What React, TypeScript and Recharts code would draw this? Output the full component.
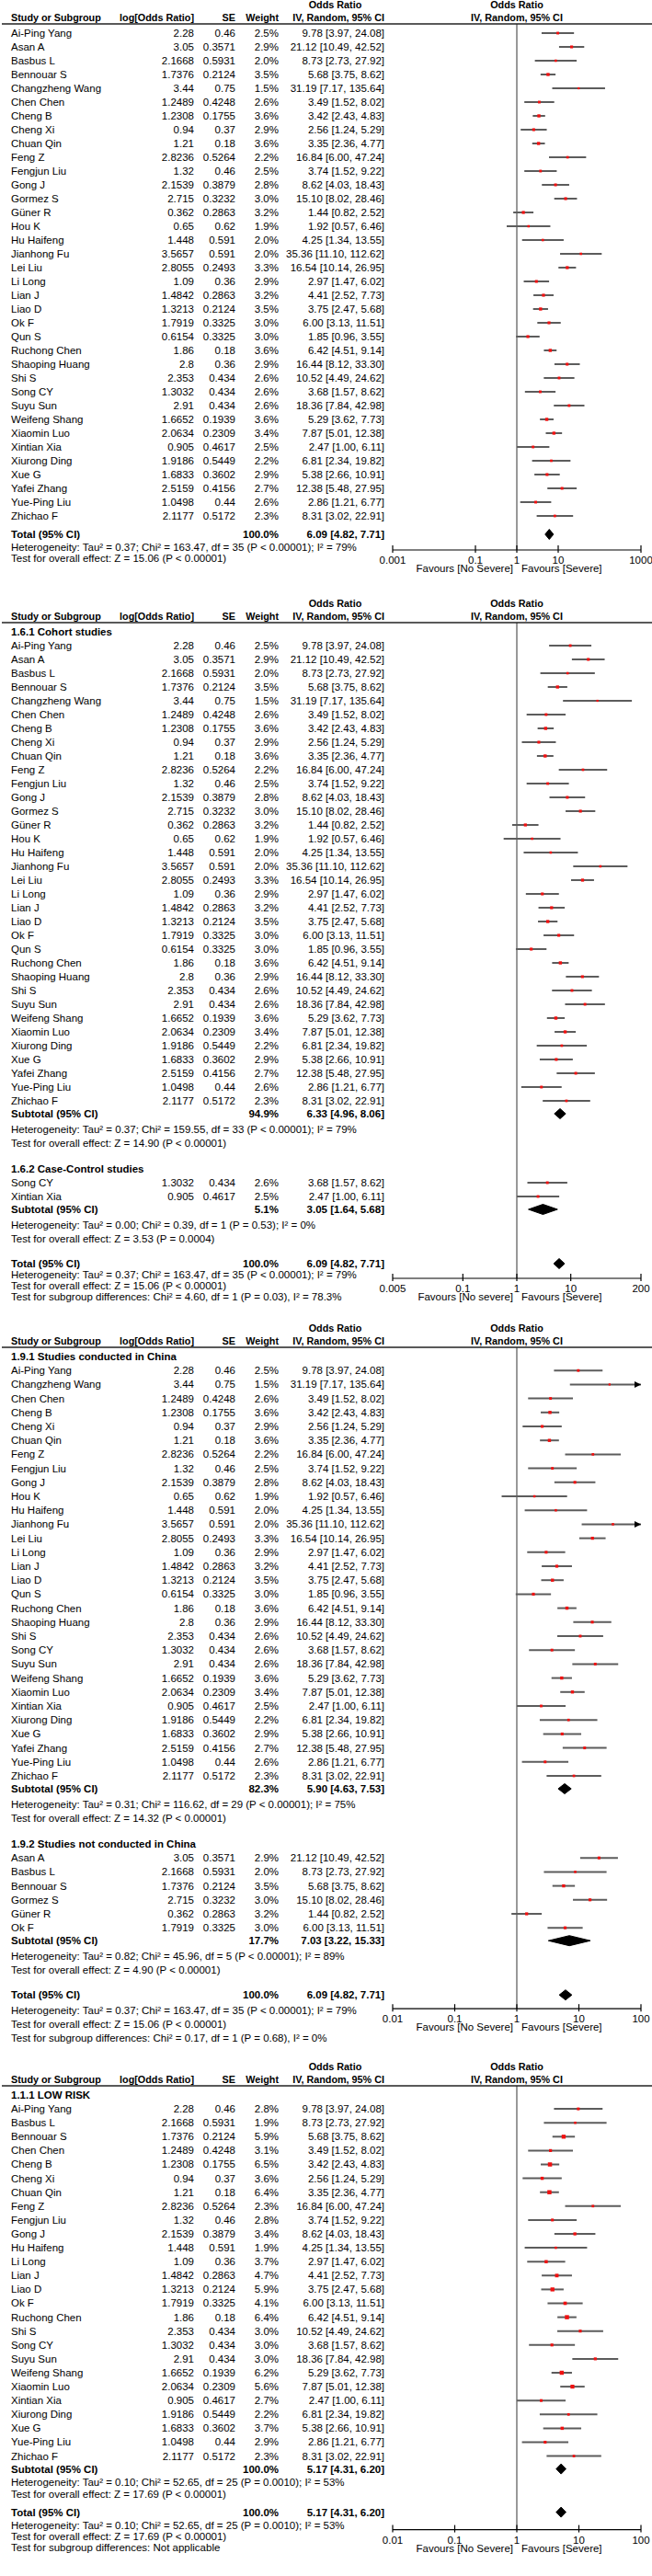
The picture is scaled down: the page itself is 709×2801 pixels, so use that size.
import React from 'react';
import { ScatterChart, Scatter, XAxis, YAxis, ErrorBar, ReferenceLine } from 'recharts';

if (typeof document !== 'undefined') document.body.style.margin = '0';

const FONT = "'Liberation Sans', Arial, Helvetica, sans-serif";
const FS = 11.5;
const FS_HEAD = 10.8;

// study level data (shared by all four panels)
const studyNames = [
  'Ai-Ping Yang', 'Asan A', 'Basbus L', 'Bennouar S', 'Changzheng Wang', 'Chen Chen', 'Cheng B', 'Cheng Xi',
  'Chuan Qin', 'Feng Z', 'Fengjun Liu', 'Gong J', 'Gormez S', 'Güner R', 'Hou K', 'Hu Haifeng',
  'Jianhong Fu', 'Lei Liu', 'Li Long', 'Lian J', 'Liao D', 'Ok F', 'Qun S', 'Ruchong Chen',
  'Shaoping Huang', 'Shi S', 'Song CY', 'Suyu Sun', 'Weifeng Shang', 'Xiaomin Luo', 'Xintian Xia', 'Xiurong Ding',
  'Xue G', 'Yafei Zhang', 'Yue-Ping Liu', 'Zhichao F',
];
const logOR = [
  2.28, 3.05, 2.1668, 1.7376, 3.44, 1.2489, 1.2308, 0.94,
  1.21, 2.8236, 1.32, 2.1539, 2.715, 0.362, 0.65, 1.448,
  3.5657, 2.8055, 1.09, 1.4842, 1.3213, 1.7919, 0.6154, 1.86,
  2.8, 2.353, 1.3032, 2.91, 1.6652, 2.0634, 0.905, 1.9186,
  1.6833, 2.5159, 1.0498, 2.1177,
];
const se = [
  0.46, 0.3571, 0.5931, 0.2124, 0.75, 0.4248, 0.1755, 0.37,
  0.18, 0.5264, 0.46, 0.3879, 0.3232, 0.2863, 0.62, 0.591,
  0.591, 0.2493, 0.36, 0.2863, 0.2124, 0.3325, 0.3325, 0.18,
  0.36, 0.434, 0.434, 0.434, 0.1939, 0.2309, 0.4617, 0.5449,
  0.3602, 0.4156, 0.44, 0.5172,
];
const weightAll = [
  2.5, 2.9, 2.0, 3.5, 1.5, 2.6, 3.6, 2.9,
  3.6, 2.2, 2.5, 2.8, 3.0, 3.2, 1.9, 2.0,
  2.0, 3.3, 2.9, 3.2, 3.5, 3.0, 3.0, 3.6,
  2.9, 2.6, 2.6, 2.6, 3.6, 3.4, 2.5, 2.2,
  2.9, 2.7, 2.6, 2.3,
];
const oddsRatio = [
  9.78, 21.12, 8.73, 5.68, 31.19, 3.49, 3.42, 2.56,
  3.35, 16.84, 3.74, 8.62, 15.10, 1.44, 1.92, 4.25,
  35.36, 16.54, 2.97, 4.41, 3.75, 6.00, 1.85, 6.42,
  16.44, 10.52, 3.68, 18.36, 5.29, 7.87, 2.47, 6.81,
  5.38, 12.38, 2.86, 8.31,
];
const ciLow = [
  3.97, 10.49, 2.73, 3.75, 7.17, 1.52, 2.43, 1.24,
  2.36, 6.00, 1.52, 4.03, 8.02, 0.82, 0.57, 1.34,
  11.10, 10.14, 1.47, 2.52, 2.47, 3.13, 0.96, 4.51,
  8.12, 4.49, 1.57, 7.84, 3.62, 5.01, 1.00, 2.34,
  2.66, 5.48, 1.21, 3.02,
];
const ciHigh = [
  24.08, 42.52, 27.92, 8.62, 135.64, 8.02, 4.83, 5.29,
  4.77, 47.24, 9.22, 18.43, 28.46, 2.52, 6.46, 13.55,
  112.62, 26.95, 6.02, 7.73, 5.68, 11.51, 3.55, 9.14,
  33.30, 24.62, 8.62, 42.98, 7.73, 12.38, 6.11, 19.82,
  10.91, 27.95, 6.77, 22.91,
];

// subgroup memberships
const caseControlStudies = ['Song CY', 'Xintian Xia'];
const nonChinaStudies = ['Asan A', 'Basbus L', 'Bennouar S', 'Gormez S', 'Güner R', 'Ok F'];
const lowRiskStudies = [
  'Ai-Ping Yang', 'Basbus L', 'Bennouar S', 'Chen Chen', 'Cheng B', 'Cheng Xi', 'Chuan Qin', 'Feng Z',
  'Fengjun Liu', 'Gong J', 'Hu Haifeng', 'Li Long', 'Lian J', 'Liao D', 'Ok F', 'Ruchong Chen',
  'Shi S', 'Song CY', 'Suyu Sun', 'Weifeng Shang', 'Xiaomin Luo', 'Xintian Xia', 'Xiurong Ding', 'Xue G',
  'Yue-Ping Liu', 'Zhichao F',
];
const lowRiskWeights = [
  2.8, 1.9, 5.9, 3.1, 6.5, 3.6, 6.4, 2.3,
  2.8, 3.4, 1.9, 3.7, 4.7, 5.9, 4.1, 6.4,
  3.0, 3.0, 3.0, 6.2, 5.6, 2.7, 2.2, 3.7,
  2.9, 2.3,
];

interface Summary { weight: string; or: number; lo: number; hi: number }
const totalAll: Summary = { weight: '100.0%', or: 6.09, lo: 4.82, hi: 7.71 };
const cohortSub: Summary = { weight: '94.9%', or: 6.33, lo: 4.96, hi: 8.06 };
const caseControlSub: Summary = { weight: '5.1%', or: 3.05, lo: 1.64, hi: 5.68 };
const chinaSub: Summary = { weight: '82.3%', or: 5.9, lo: 4.63, hi: 7.53 };
const nonChinaSub: Summary = { weight: '17.7%', or: 7.03, lo: 3.22, hi: 15.33 };
const lowRiskSub: Summary = { weight: '100.0%', or: 5.17, lo: 4.31, hi: 6.2 };

const hetAll = 'Heterogeneity: Tau² = 0.37; Chi² = 163.47, df = 35 (P < 0.00001); I² = 79%';
const effectAll = 'Test for overall effect: Z = 15.06 (P < 0.00001)';

interface Group { title?: string; members: string[]; weights?: number[]; sub?: Summary; notes?: string[] }
interface Layout {
  top: number; height: number; rowH: number; subGap: number; subToNote: number; noteGap: number;
  noteToHead: number; noteToTotal: number; studyToTotal: number; totalToNote: number; tailGap: number; axisGap: number;
}
interface Panel {
  groups: Group[]; total: Summary; totalNotes: string[]; lo: number; hi: number; ticks: number[];
  favours: [string, string]; layout: Layout;
}

const panels: Panel[] = [
  {
    groups: [{ members: studyNames }],
    total: totalAll,
    totalNotes: [hetAll, effectAll],
    lo: 0.001, hi: 1000, ticks: [0.001, 0.1, 1, 10, 1000],
    favours: ['Favours [No Severe]', 'Favours [Severe]'],
    layout: { top: 0, height: 651, rowH: 15, subGap: 14, subToNote: 17, noteGap: 15, noteToHead: 28, noteToTotal: 27, studyToTotal: 20, totalToNote: 14, tailGap: 12, axisGap: 17 },
  },
  {
    groups: [
      {
        title: '1.6.1 Cohort studies',
        members: studyNames.filter((n) => !caseControlStudies.includes(n)),
        sub: cohortSub,
        notes: ['Heterogeneity: Tau² = 0.37; Chi² = 159.55, df = 33 (P < 0.00001); I² = 79%', 'Test for overall effect: Z = 14.90 (P < 0.00001)'],
      },
      {
        title: '1.6.2 Case-Control studies',
        members: caseControlStudies,
        sub: caseControlSub,
        notes: ['Heterogeneity: Tau² = 0.00; Chi² = 0.39, df = 1 (P = 0.53); I² = 0%', 'Test for overall effect: Z = 3.53 (P = 0.0004)'],
      },
    ],
    total: totalAll,
    totalNotes: [hetAll, effectAll, 'Test for subgroup differences: Chi² = 4.60, df = 1 (P = 0.03), I² = 78.3%'],
    lo: 0.005, hi: 200, ticks: [0.005, 0.1, 1, 10, 200],
    favours: ['Favours [No severe]', 'Favours [Severe]'],
    layout: { top: 651, height: 788, rowH: 15, subGap: 14, subToNote: 17, noteGap: 15, noteToHead: 28, noteToTotal: 27, studyToTotal: 20, totalToNote: 12, tailGap: 12, axisGap: 16 },
  },
  {
    groups: [
      {
        title: '1.9.1 Studies conducted in China',
        members: studyNames.filter((n) => !nonChinaStudies.includes(n)),
        sub: chinaSub,
        notes: ['Heterogeneity: Tau² = 0.31; Chi² = 116.62, df = 29 (P < 0.00001); I² = 75%', 'Test for overall effect: Z = 14.32 (P < 0.00001)'],
      },
      {
        title: '1.9.2 Studies not conducted in China',
        members: nonChinaStudies,
        sub: nonChinaSub,
        notes: ['Heterogeneity: Tau² = 0.82; Chi² = 45.96, df = 5 (P < 0.00001); I² = 89%', 'Test for overall effect: Z = 4.90 (P < 0.00001)'],
      },
    ],
    total: totalAll,
    totalNotes: [hetAll, effectAll, 'Test for subgroup differences: Chi² = 0.17, df = 1 (P = 0.68), I² = 0%'],
    lo: 0.01, hi: 100, ticks: [0.01, 0.1, 1, 10, 100],
    favours: ['Favours [No Severe]', 'Favours [Severe]'],
    layout: { top: 1439, height: 803, rowH: 15.2, subGap: 14, subToNote: 17, noteGap: 15, noteToHead: 28, noteToTotal: 27, studyToTotal: 20, totalToNote: 17, tailGap: 15, axisGap: 15 },
  },
  {
    groups: [
      {
        title: '1.1.1 LOW RISK',
        members: lowRiskStudies,
        weights: lowRiskWeights,
        sub: lowRiskSub,
        notes: ['Heterogeneity: Tau² = 0.10; Chi² = 52.65, df = 25 (P = 0.0010); I² = 53%', 'Test for overall effect: Z = 17.69 (P < 0.00001)'],
      },
    ],
    total: lowRiskSub,
    totalNotes: [
      'Heterogeneity: Tau² = 0.10; Chi² = 52.65, df = 25 (P = 0.0010); I² = 53%',
      'Test for overall effect: Z = 17.69 (P < 0.00001)',
      'Test for subgroup differences: Not applicable',
    ],
    lo: 0.01, hi: 100, ticks: [0.01, 0.1, 1, 10, 100],
    favours: ['Favours [No Severe]', 'Favours [Severe]'],
    layout: { top: 2242, height: 559, rowH: 15.1, subGap: 14, subToNote: 14, noteGap: 13, noteToHead: 28, noteToTotal: 20, studyToTotal: 20, totalToNote: 14, tailGap: 12, axisGap: 19 },
  },
];

// column positions
const COL = { name: 12, log: 211, se: 256, weight: 303, ci: 418, plot: 562 };
const LINE_Y = 26;
const PLOT_LEFT = 427;
const PLOT_RIGHT = 697;

type RowKind = 'head' | 'study' | 'sub' | 'total' | 'note';
interface Row {
  kind: RowKind; y: number; label: string;
  logOR?: number; se?: number; weight?: string; or?: number; lo?: number; hi?: number; w?: number;
}

const fmtCI = (r: Row) => `${r.or!.toFixed(2)} [${r.lo!.toFixed(2)}, ${r.hi!.toFixed(2)}]`;

function layoutPanel(p: Panel) {
  const L = p.layout;
  const rows: Row[] = [];
  let y = LINE_Y + 10;
  let prev: RowKind | null = null;
  p.groups.forEach((g) => {
    if (g.title) {
      if (prev === 'note') y += L.noteToHead;
      rows.push({ kind: 'head', y, label: g.title });
      prev = 'head';
    }
    g.members.forEach((name, k) => {
      if (prev) y += L.rowH;
      const i = studyNames.indexOf(name);
      const w = g.weights ? g.weights[k] : weightAll[i];
      rows.push({
        kind: 'study', y, label: name, logOR: logOR[i], se: se[i], weight: w.toFixed(1) + '%',
        or: oddsRatio[i], lo: ciLow[i], hi: ciHigh[i], w,
      });
      prev = 'study';
    });
    if (g.sub) {
      y += L.subGap;
      rows.push({ kind: 'sub', y, label: 'Subtotal (95% CI)', weight: g.sub.weight, or: g.sub.or, lo: g.sub.lo, hi: g.sub.hi });
      prev = 'sub';
      (g.notes || []).forEach((n, k) => {
        y += k === 0 ? L.subToNote : L.noteGap;
        rows.push({ kind: 'note', y, label: n });
        prev = 'note';
      });
    }
  });
  y += prev === 'study' ? L.studyToTotal : L.noteToTotal;
  rows.push({ kind: 'total', y, label: 'Total (95% CI)', weight: p.total.weight, or: p.total.or, lo: p.total.lo, hi: p.total.hi });
  const axisY = y + L.axisGap;
  p.totalNotes.forEach((n, k) => {
    y += k === 0 ? L.totalToNote : L.tailGap;
    rows.push({ kind: 'note', y, label: n });
  });
  return { rows, axisY };
}

function RowLabels({ row, y }: { row: Row; y: number }) {
  const bold = row.kind === 'head' || row.kind === 'sub' || row.kind === 'total';
  const common = { y, dominantBaseline: 'central' as const, fontFamily: FONT, fontSize: FS, fill: '#000' };
  return (
    <g>
      <text x={COL.name} fontWeight={bold ? 700 : 400} {...common}>{row.label}</text>
      {row.logOR != null && <text x={COL.log} textAnchor="end" {...common}>{String(row.logOR)}</text>}
      {row.se != null && <text x={COL.se} textAnchor="end" {...common}>{String(row.se)}</text>}
      {row.weight && (
        <text x={COL.weight} textAnchor="end" fontWeight={bold ? 700 : 400} {...common}>{row.weight}</text>
      )}
      {row.or != null && (
        <text x={COL.ci} textAnchor="end" fontWeight={bold ? 700 : 400} {...common}>{fmtCI(row)}</text>
      )}
    </g>
  );
}

const RowText = (props: any) => {
  const { cy, payload } = props;
  if (cy == null || !payload) return <g />;
  return <RowLabels row={payload.row} y={cy} />;
};

const Square = (props: any) => {
  const { cx, cy, payload } = props;
  if (cx == null || cy == null) return <g />;
  const s = 1.7 * Math.sqrt(payload.w) + 0.2;
  return <rect x={cx - s / 2} y={cy - s / 2} width={s} height={s} fill="#f01010" />;
};

const Arrow = (props: any) => {
  const { cx, cy } = props;
  if (cx == null || cy == null) return <g />;
  return <path d={`M${cx},${cy} L${cx - 7},${cy - 3.5} L${cx - 7},${cy + 3.5} Z`} fill="#000" />;
};

const Empty = () => <g />;

const AxisTick = (props: any) => {
  const { x, y, payload } = props;
  return (
    <g>
      <line x1={x} x2={x} y1={y - 5} y2={y + 3} stroke="#000" strokeWidth={1.2} />
      <text x={x} y={y + 11} textAnchor="middle" dominantBaseline="central" fontFamily={FONT} fontSize={FS} fill="#000">
        {String(payload.value)}
      </text>
    </g>
  );
};

function ForestPanel({ panel }: { panel: Panel }) {
  const L = panel.layout;
  const { rows, axisY } = layoutPanel(panel);
  const toUnit = (y: number) => (y - LINE_Y) / L.rowH;
  const yMax = toUnit(axisY);
  const half = 5.5 / L.rowH;

  const inPlot = rows.filter((r) => r.y < axisY);
  const below = rows.filter((r) => r.y >= axisY);

  const textPts = inPlot.map((r) => ({ x: 1, y: toUnit(r.y), row: r }));
  const studyPts = rows
    .filter((r) => r.kind === 'study')
    .map((r) => ({
      x: r.or!, y: toUnit(r.y), w: r.w!,
      err: [r.or! - r.lo!, Math.min(r.hi!, panel.hi) - r.or!],
    }));
  const arrowPts = rows
    .filter((r) => r.kind === 'study' && r.hi! > panel.hi)
    .map((r) => ({ x: panel.hi, y: toUnit(r.y) }));
  const diamonds = rows
    .filter((r) => r.kind === 'sub' || r.kind === 'total')
    .map((r) => {
      const u = toUnit(r.y);
      return [
        { x: r.lo!, y: u }, { x: r.or!, y: u - half }, { x: r.hi!, y: u }, { x: r.or!, y: u + half }, { x: r.lo!, y: u },
      ];
    });

  const chartH = axisY + 30;
  const headerText = { fontFamily: FONT, fontSize: FS_HEAD, fontWeight: 700, fill: '#000', dominantBaseline: 'central' as const };
  const ciCenter = (COL.ci + 319) / 2 - 4;

  return (
    <div style={{ position: 'absolute', left: 0, top: L.top, width: 709, height: L.height, overflow: 'hidden' }}>
      <div style={{ position: 'absolute', left: 0, top: 0 }}>
        <ScatterChart width={709} height={chartH} margin={{ top: LINE_Y, right: 709 - PLOT_RIGHT, bottom: 0, left: PLOT_LEFT }}>
          <XAxis
            type="number" dataKey="x" scale="log" domain={[panel.lo, panel.hi]} ticks={panel.ticks} interval={0}
            tickSize={0} tickMargin={0} tickLine={false} tick={(p: any) => <AxisTick {...p} />}
            axisLine={{ stroke: '#000', strokeWidth: 1.2 }} height={30}
          />
          <YAxis type="number" dataKey="y" domain={[0, yMax]} reversed hide />
          <ReferenceLine x={1} stroke="#333" strokeWidth={1} />
          <Scatter data={textPts} shape={RowText} isAnimationActive={false} />
          <Scatter data={studyPts} shape={Square} isAnimationActive={false}>
            <ErrorBar dataKey="err" direction="x" width={0} stroke="#5c5c5c" strokeWidth={2} isAnimationActive={false} />
          </Scatter>
          {arrowPts.length > 0 && <Scatter data={arrowPts} shape={Arrow} isAnimationActive={false} />}
          {diamonds.map((d, i) => (
            <Scatter
              key={i} data={d} shape={Empty} line={{ fill: '#000', stroke: '#000', strokeWidth: 1 }}
              lineType="joint" isAnimationActive={false}
            />
          ))}
        </ScatterChart>
      </div>
      <svg width={709} height={L.height} style={{ position: 'absolute', left: 0, top: 0, pointerEvents: 'none' }}>
        <text x={ciCenter} y={5} textAnchor="middle" {...headerText}>Odds Ratio</text>
        <text x={COL.plot} y={5} textAnchor="middle" {...headerText}>Odds Ratio</text>
        <text x={COL.name} y={19} {...headerText}>Study or Subgroup</text>
        <text x={COL.log} y={19} textAnchor="end" {...headerText}>log[Odds Ratio]</text>
        <text x={COL.se} y={19} textAnchor="end" {...headerText}>SE</text>
        <text x={COL.weight} y={19} textAnchor="end" {...headerText}>Weight</text>
        <text x={COL.ci} y={19} textAnchor="end" {...headerText}>IV, Random, 95% CI</text>
        <text x={COL.plot} y={19} textAnchor="middle" {...headerText}>IV, Random, 95% CI</text>
        <line x1={2} x2={709} y1={LINE_Y} y2={LINE_Y} stroke="#222" strokeWidth={1.5} />
        {below.map((r, i) => (
          <RowLabels key={i} row={r} y={r.y} />
        ))}
        <text x={COL.plot - 4} y={axisY + 20} textAnchor="end" fontFamily={FONT} fontSize={FS} dominantBaseline="central">
          {panel.favours[0]}
        </text>
        <text x={COL.plot + 5} y={axisY + 20} fontFamily={FONT} fontSize={FS} dominantBaseline="central">
          {panel.favours[1]}
        </text>
      </svg>
    </div>
  );
}

export default function App() {
  return (
    <div style={{ position: 'relative', width: 709, height: 2801, background: '#fff' }}>
      {panels.map((p, i) => (
        <ForestPanel key={i} panel={p} />
      ))}
    </div>
  );
}
